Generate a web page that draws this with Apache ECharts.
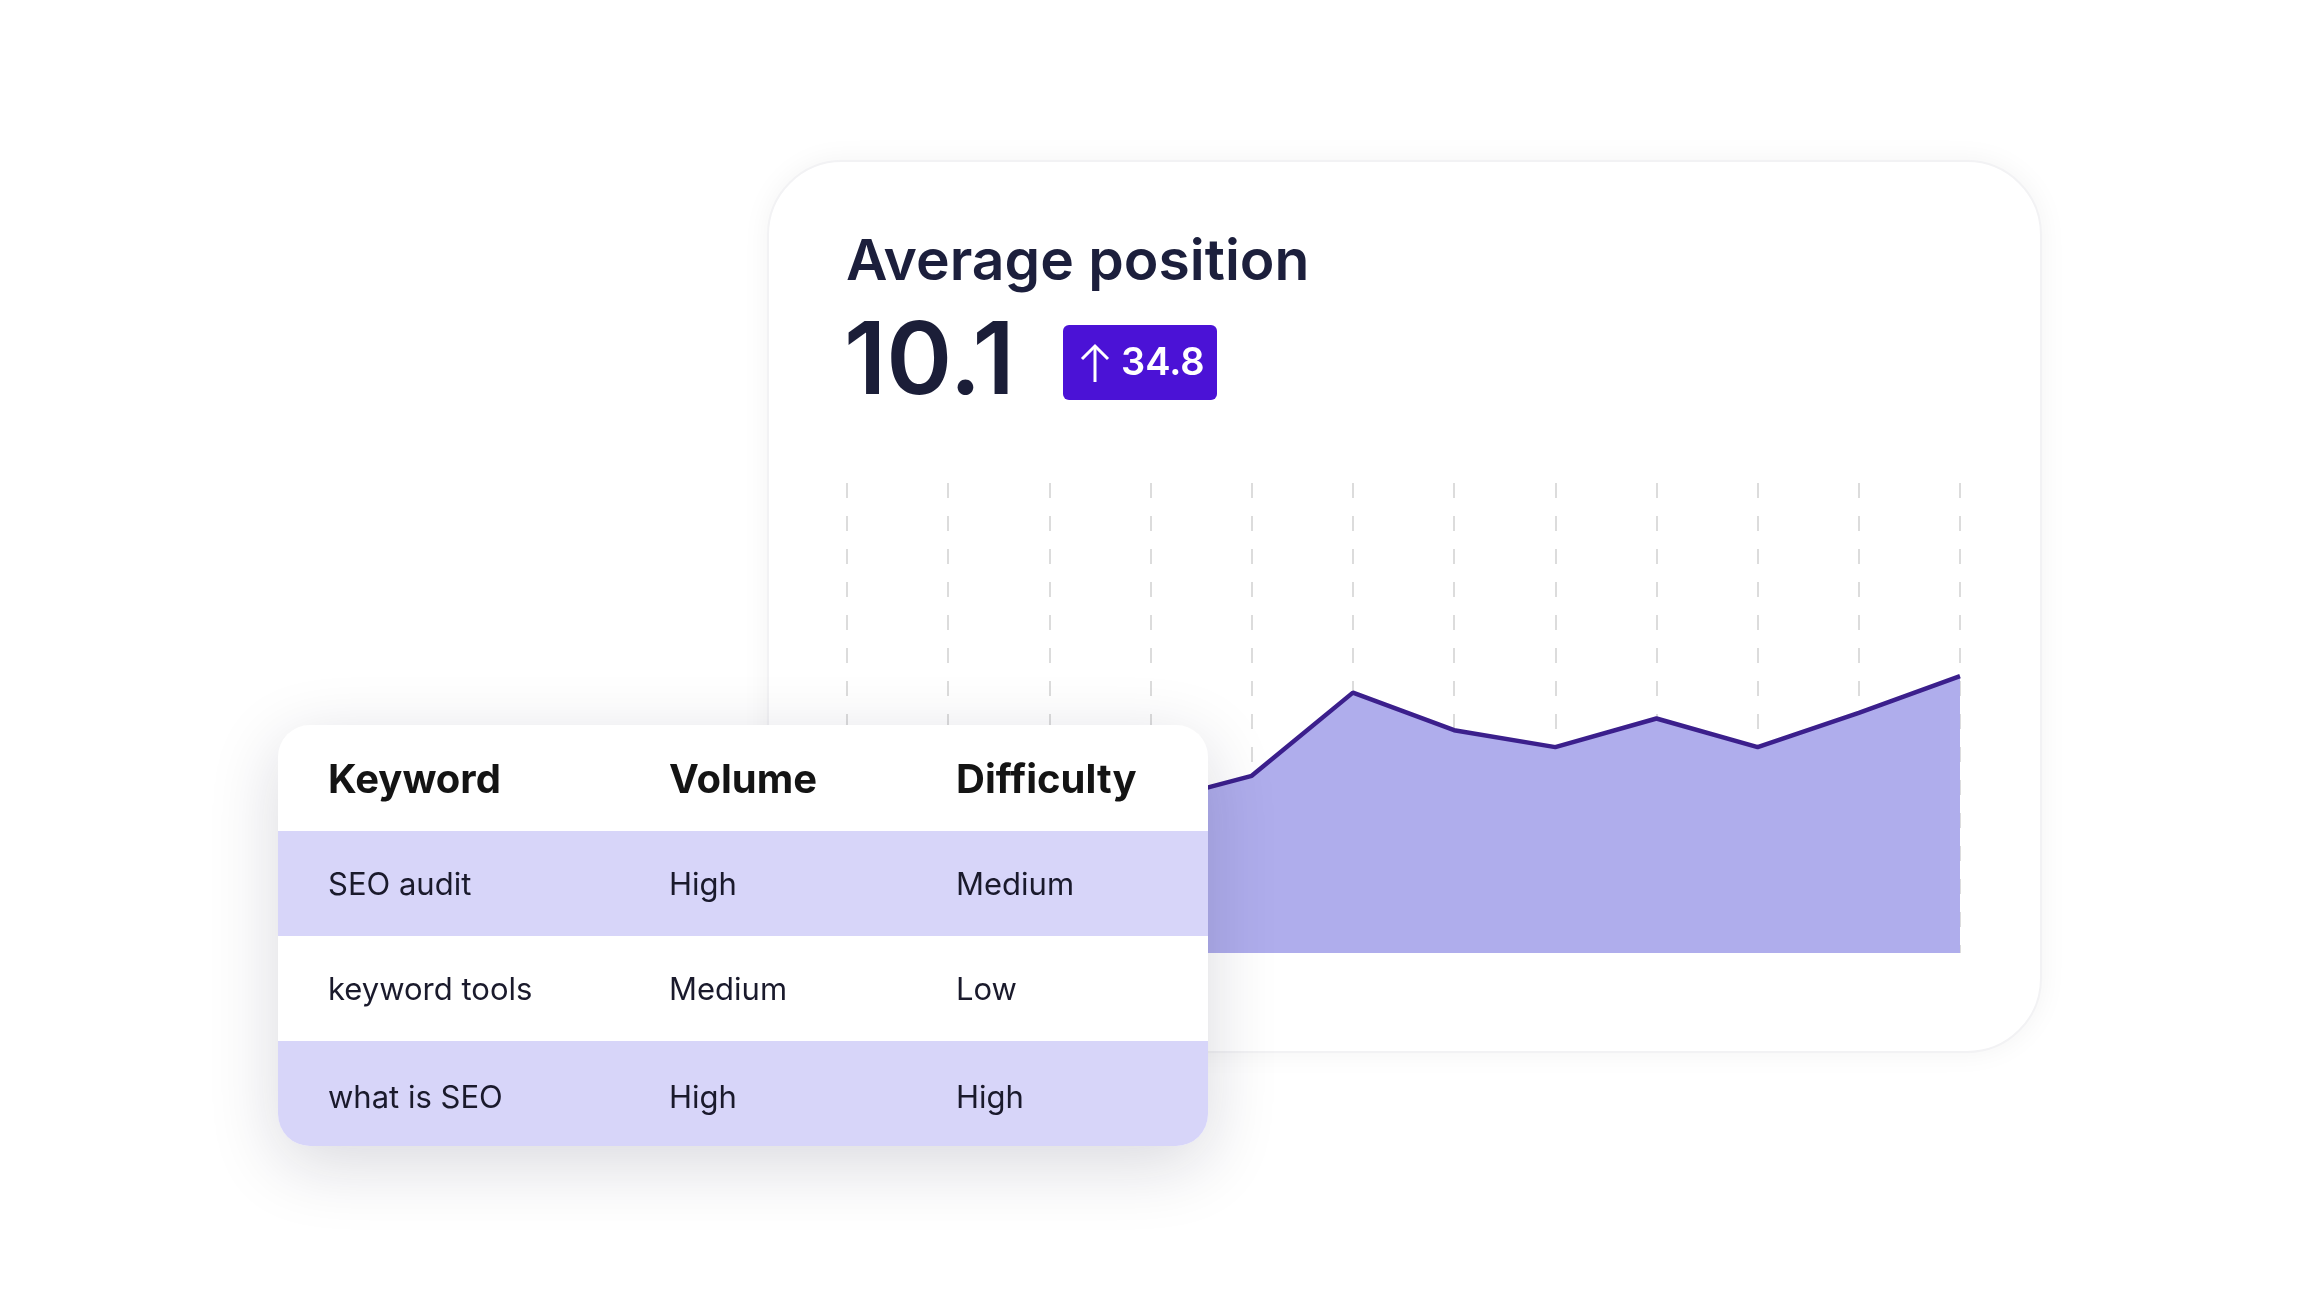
<!DOCTYPE html>
<html>
<head>
<meta charset="utf-8">
<script src="https://cdn.jsdelivr.net/npm/echarts@6/dist/echarts.min.js"></script>
<style>
  html, body { margin: 0; padding: 0; background: #fff; }
  #card {
    position: absolute; left: 767px; top: 160px; width: 1275px; height: 893px;
    border-radius: 75px; background: #fff; box-sizing: border-box;
    border: 2px solid #f2f2f4; box-shadow: 0 0 28px rgba(0, 0, 0, 0.05);
  }
  #chart { position: absolute; left: 0; top: 0; width: 2322px; height: 1307px; }
</style>
</head>
<body>
<div id="card"></div>
<div id="chart"></div>
<script>
var font = 'Inter, "Noto Sans", sans-serif';

// chart data
var weeks = ['W1', 'W2', 'W3', 'W4', 'W5', 'W6', 'W7', 'W8', 'W9', 'W10', 'W11', 'W12'];
var positionScore = [40, 35, 38, 32, 37.7, 55.4, 47.4, 43.8, 49.9, 43.8, 51.1, 58.9];

// headline numbers
var titleText = 'Average position';
var avgPosition = '10.1';
var avgChange = '34.8';

// keyword table
var tableHeader = ['Keyword', 'Volume', 'Difficulty'];
var keywords = ['SEO audit', 'keyword tools', 'what is SEO'];
var volumes = ['High', 'Medium', 'High'];
var difficulties = ['Medium', 'Low', 'High'];

function buildTable() {
  var left = 278, top = 725, width = 930, headH = 106, rowH = 105, r = 32;
  var colX = [328, 669, 956];
  var height = headH + rowH * keywords.length;
  var els = [];
  els.push({
    type: 'rect', z: 100,
    shape: { x: left, y: top, width: width, height: height, r: r },
    style: { fill: '#fff', shadowBlur: 70, shadowColor: 'rgba(20, 20, 50, 0.16)', shadowOffsetY: 18 }
  });
  tableHeader.forEach(function (h, i) {
    els.push({
      type: 'text', z: 103,
      style: { text: h, x: colX[i], y: top + headH / 2 + 3, font: '700 40px ' + font,
        fill: '#141414', textVerticalAlign: 'middle' }
    });
  });
  keywords.forEach(function (k, i) {
    var y = top + headH + rowH * i;
    var last = i === keywords.length - 1;
    if (i % 2 === 0) {
      els.push({
        type: 'rect', z: 101,
        shape: { x: left, y: y, width: width, height: rowH, r: last ? [0, 0, r, r] : 0 },
        style: { fill: '#d7d5f9' }
      });
    }
    [k, volumes[i], difficulties[i]].forEach(function (t, c) {
      els.push({
        type: 'text', z: 103,
        style: { text: t, x: colX[c], y: y + rowH / 2 + (last ? 5 : 2), font: '400 31px ' + font,
          fill: '#1a1a2c', textVerticalAlign: 'middle' }
      });
    });
  });
  return els;
}

var headline = [
  {
    type: 'text', z: 10,
    style: { text: titleText, x: 846, y: 263, font: '600 57px ' + font, fill: '#1c1f3c', textVerticalAlign: 'middle' }
  },
  {
    type: 'text', z: 10,
    style: { text: avgPosition, x: 844, y: 364, font: '600 100px ' + font, fill: '#1b1e38', textVerticalAlign: 'middle' }
  },
  {
    type: 'rect', z: 10,
    shape: { x: 1063, y: 325, width: 154, height: 75, r: 6 },
    style: { fill: '#4b12d6' }
  },
  {
    type: 'polyline', z: 11,
    shape: { points: [[1095, 382], [1095, 346]] },
    style: { stroke: '#fff', lineWidth: 3, fill: null }
  },
  {
    type: 'polyline', z: 11,
    shape: { points: [[1082, 359], [1095, 346], [1108, 359]] },
    style: { stroke: '#fff', lineWidth: 3, fill: null }
  },
  {
    type: 'text', z: 11,
    style: { text: avgChange, x: 1121, y: 364, font: '600 38px ' + font, fill: '#fff', textVerticalAlign: 'middle' }
  }
];

var option = {
  backgroundColor: 'transparent',
  animation: false,
  grid: { left: 847, right: 362, top: 483, bottom: 354 },
  xAxis: {
    type: 'category',
    data: weeks,
    boundaryGap: false,
    axisLine: { show: false },
    axisTick: { show: false },
    axisLabel: { show: false },
    splitLine: { show: true, lineStyle: { color: '#dcdcdc', width: 2, type: [15, 18] } }
  },
  yAxis: {
    type: 'value',
    min: 0,
    max: 100,
    show: false,
    splitLine: { show: false }
  },
  series: [
    {
      type: 'line',
      data: positionScore,
      symbol: 'none',
      lineStyle: { color: '#3b1f8c', width: 4.5 },
      areaStyle: { color: '#afadec', opacity: 1 },
      z: 2
    }
  ],
  graphic: headline.concat(buildTable())
};

var myChart = echarts.init(document.getElementById('chart'));
myChart.setOption(option);
</script>
</body>
</html>
